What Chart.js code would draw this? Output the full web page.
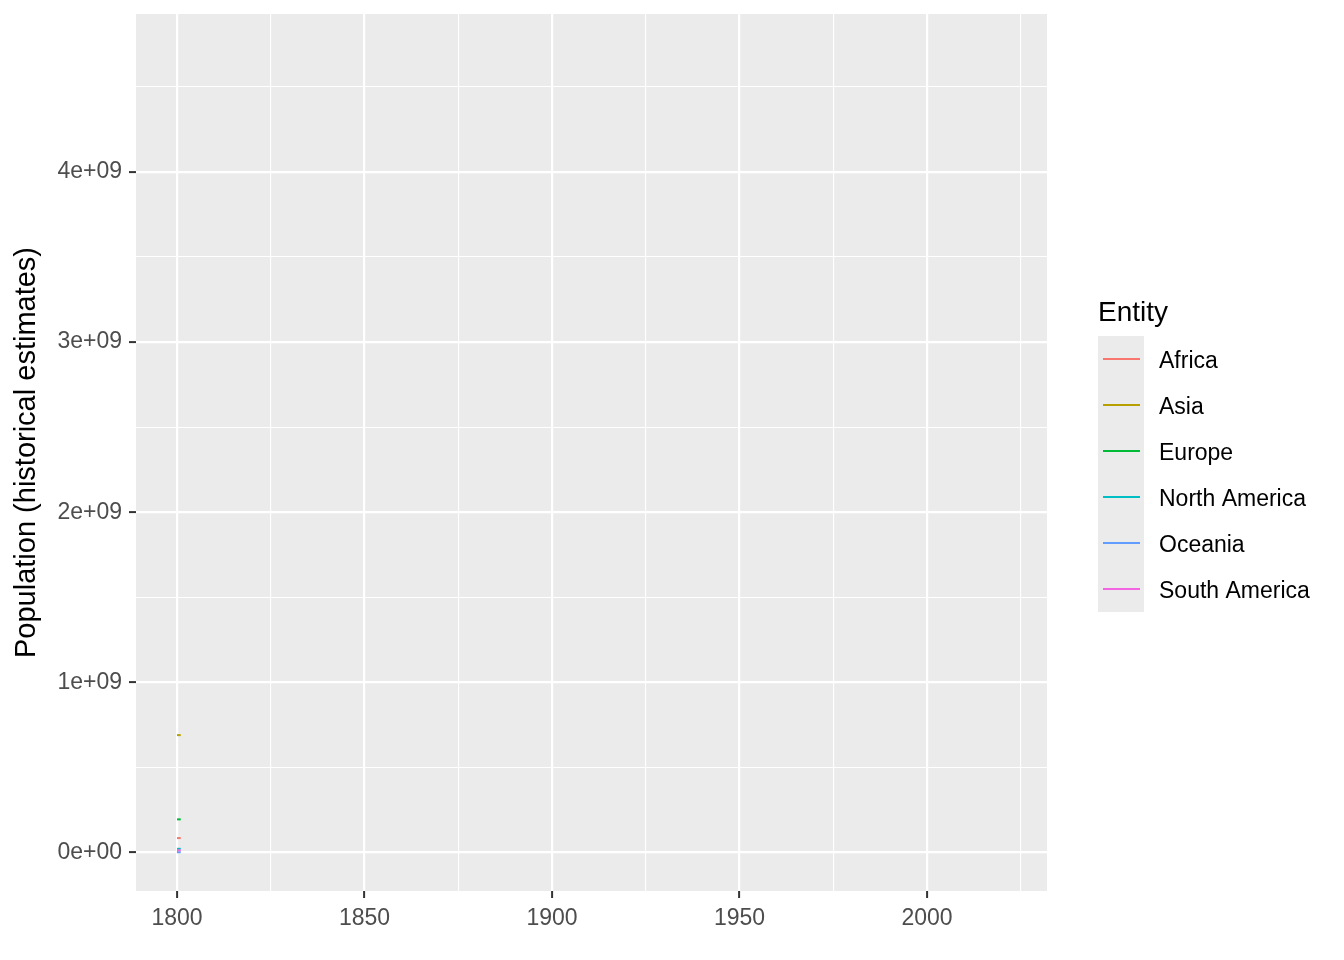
<!DOCTYPE html>
<html>
<head>
<meta charset="utf-8">
<script src="https://cdn.jsdelivr.net/npm/chart.js@4/dist/chart.umd.min.js"></script>
<style>
	body { margin: 0; background: #ffffff; }
	canvas { display: block; }
</style>
</head>
<body>
<canvas id="pop-chart" width="1344" height="960"></canvas>
<script>
// data: only 1800 and 1801 are present
const years = [1800, 1801];
const entities = ["Africa", "Asia", "Europe", "North America", "Oceania", "South America"];
const colors = ["#F8766D", "#B79F00", "#00BA38", "#00BFC4", "#619CFF", "#F564E3"];
const africa = [0.085e9, 0.085e9];
const asia = [0.69e9, 0.69e9];
const europe = [0.195e9, 0.195e9];
const northAmerica = [0.022e9, 0.022e9];
const oceania = [0.002e9, 0.002e9];
const southAmerica = [0.0135e9, 0.0135e9];
const seriesValues = [africa, asia, europe, northAmerica, oceania, southAmerica];

const xTicks = [1800, 1825, 1850, 1875, 1900, 1925, 1950, 1975, 2000, 2025];
const yTicks = [0, 0.5e9, 1e9, 1.5e9, 2e9, 2.5e9, 3e9, 3.5e9, 4e9, 4.5e9];

const FONT = "'Liberation Sans', Arial, sans-serif";

const isMajorX = v => v % 50 === 0;
const isMajorY = v => v % 1e9 === 0;

const panelBg = {
	id: "panelBg",
	beforeDraw(chart) {
		const a = chart.chartArea;
		const ctx = chart.ctx;
		ctx.save();
		ctx.fillStyle = "#EBEBEB";
		ctx.fillRect(a.left, a.top, a.right - a.left, a.bottom - a.top);
		ctx.restore();
	}
};

// ggplot style legend drawn on the right
const sideLegend = {
	id: "sideLegend",
	afterDraw(chart) {
		const ctx = chart.ctx;
		ctx.save();
		ctx.fillStyle = "#000000";
		ctx.font = "28px " + FONT;
		ctx.textBaseline = "alphabetic";
		ctx.textAlign = "left";
		ctx.fillText("Entity", 1098, 321);

		const top = 336, keyH = 46;
		ctx.fillStyle = "#EBEBEB";
		ctx.fillRect(1098, top, 46, keyH * entities.length);

		ctx.font = "23px " + FONT;
		ctx.textBaseline = "middle";
		entities.forEach((name, i) => {
			const cy = top + keyH * i + 23;
			ctx.strokeStyle = colors[i];
			ctx.lineWidth = 2;
			ctx.beginPath();
			ctx.moveTo(1103, cy);
			ctx.lineTo(1140, cy);
			ctx.stroke();
			ctx.fillStyle = "#000000";
			ctx.fillText(name, 1159, cy + 3);
		});
		ctx.restore();
	}
};

new Chart(document.getElementById("pop-chart"), {
	type: "line",
	data: {
		datasets: entities.map((name, i) => ({
			label: name,
			data: years.map((y, j) => ({ x: y, y: seriesValues[i][j] })),
			borderColor: colors[i],
			borderWidth: 2,
			borderCapStyle: "butt",
			pointRadius: 0,
			fill: false,
			tension: 0,
			order: entities.length - i
		}))
	},
	options: {
		responsive: false,
		animation: false,
		devicePixelRatio: 1,
		layout: { padding: { left: 0, right: 297, top: 14, bottom: 0 } },
		plugins: {
			legend: { display: false },
			tooltip: { enabled: false }
		},
		scales: {
			x: {
				type: "linear",
				min: 1789.07,
				max: 2032,
				afterBuildTicks: s => { s.ticks = xTicks.map(v => ({ value: v })); },
				afterFit: s => {
					s.height = 69;
					s.paddingLeft = 0;
					s.paddingRight = 0;
				},
				border: { display: false },
				grid: {
					color: "#FFFFFF",
					lineWidth: c => (c.tick && isMajorX(c.tick.value)) ? 2.2 : 1.1,
					tickColor: c => (c.tick && isMajorX(c.tick.value)) ? "#333333" : "rgba(0,0,0,0)",
					tickWidth: 2,
					tickLength: 7
				},
				ticks: {
					autoSkip: false,
					maxRotation: 0,
					padding: 7,
					color: "#4D4D4D",
					font: { family: FONT, size: 23 },
					callback: v => isMajorX(v) ? String(v) : ""
				}
			},
			y: {
				type: "linear",
				min: -0.226e9,
				max: 4.928e9,
				afterBuildTicks: s => { s.ticks = yTicks.map(v => ({ value: v })); },
				afterFit: s => {
					s.width = 136;
					s.paddingTop = 0;
					s.paddingBottom = 0;
				},
				border: { display: false },
				grid: {
					color: "#FFFFFF",
					lineWidth: c => (c.tick && isMajorY(c.tick.value)) ? 2.2 : 1.1,
					tickColor: c => (c.tick && isMajorY(c.tick.value)) ? "#333333" : "rgba(0,0,0,0)",
					tickWidth: 2,
					tickLength: 7
				},
				ticks: {
					autoSkip: false,
					padding: 7,
					color: "#4D4D4D",
					font: { family: FONT, size: 23 },
					callback: v => {
						if (!isMajorY(v)) return "";
						return v === 0 ? "0e+00" : (v / 1e9) + "e+09";
					}
				},
				title: {
					display: true,
					text: "Population (historical estimates)",
					color: "#000000",
					font: { family: FONT, size: 29 },
					padding: { top: 10, bottom: 0 }
				}
			}
		}
	},
	plugins: [panelBg, sideLegend]
});
</script>
</body>
</html>
